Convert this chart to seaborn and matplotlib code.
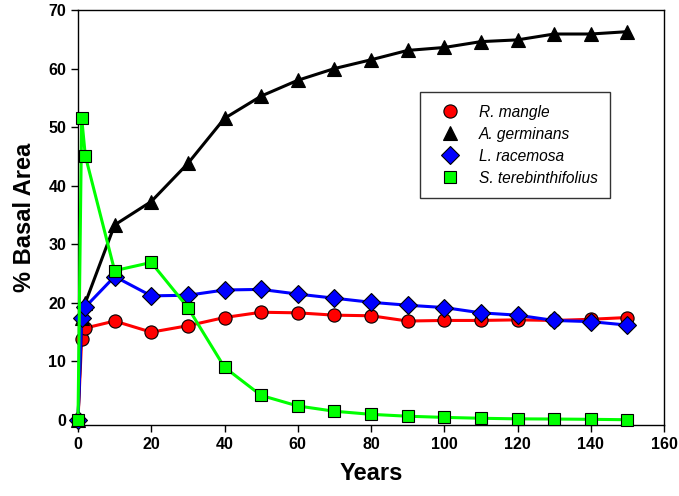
import matplotlib
matplotlib.use("Agg")
import matplotlib.pyplot as plt
import seaborn as sns
import pandas as pd

years = [0, 1, 2, 10, 20, 30, 40, 50, 60, 70, 80, 90, 100, 110, 120, 130, 140, 150]
r_mangle = [0, 13.8, 15.7, 16.9, 15.0, 16.1, 17.5, 18.4, 18.3, 17.9, 17.8, 16.9, 17.0, 17.0, 17.1, 17.0, 17.2, 17.5]
a_germinans = [0, 17.4, 20.0, 33.3, 37.3, 43.8, 51.5, 55.3, 58.0, 60.0, 61.5, 63.1, 63.6, 64.6, 64.9, 65.9, 65.9, 66.3]
l_racemosa = [0, 17.5, 19.3, 24.5, 21.2, 21.3, 22.2, 22.3, 21.5, 20.8, 20.1, 19.6, 19.2, 18.3, 17.9, 17.0, 16.8, 16.2]
s_tereb = [0, 51.6, 45.1, 25.5, 26.9, 19.2, 9.0, 4.2, 2.4, 1.5, 0.97, 0.65, 0.45, 0.3, 0.2, 0.17, 0.12, 0.05]

names = ["R. mangle", "A. germinans", "L. racemosa", "S. terebinthifolius"]
series = [r_mangle, a_germinans, l_racemosa, s_tereb]
colors = ["#ff0000", "#000000", "#0000ff", "#00ff00"]
markers = ["o", "^", "D", "s"]
msizes = [9.5, 9.5, 9, 8]

sns.set_style("ticks")
plt.rcParams['font.family'] = ['Liberation Sans', 'DejaVu Sans']
plt.rcParams['text.color'] = 'black'
plt.rcParams['axes.labelcolor'] = 'black'

fig = plt.figure(figsize=(6.79, 4.96), dpi=100)
ax = fig.add_axes([78/679, (496-425)/496, 586/679, 415/496])

for name, vals, c, m, ms in zip(names, series, colors, markers, msizes):
    df = pd.DataFrame({"Years": years, "val": vals})
    sns.lineplot(data=df, x="Years", y="val", ax=ax, color=c, marker=m,
                 markersize=ms, markeredgecolor="black", markeredgewidth=0.8,
                 linewidth=2.2, label=name, clip_on=False, zorder=3)

ax.set_xlim(0, 160)
ax.set_ylim(-0.85, 70)
ax.set_xticks(range(0, 161, 20))
ax.set_yticks(range(0, 71, 10))
for s in ax.spines.values():
    s.set_linewidth(1.0)
    s.set_color("black")
ax.tick_params(direction="out", length=5, width=1, labelsize=11.5, colors="black")
for lab in ax.get_xticklabels() + ax.get_yticklabels():
    lab.set_fontweight("bold")
ax.set_xlabel("Years", fontsize=17, fontweight="bold", labelpad=7, color="black")
ax.set_ylabel("% Basal Area", fontsize=17, fontweight="bold", labelpad=9, color="black")

leg = ax.legend(loc="upper left", bbox_to_anchor=(0.584, 0.802), frameon=True,
                fancybox=False, edgecolor="black", fontsize=11.2,
                handlelength=2.2, handletextpad=0.75, borderpad=0.8,
                labelspacing=0.45, borderaxespad=0)
leg.get_frame().set_linewidth(1.0)
for h in leg.get_lines():
    h.set_linestyle("none")
for t in leg.get_texts():
    t.set_fontstyle("italic")
    t.set_color("black")

fig.savefig("out.png", dpi=100)
